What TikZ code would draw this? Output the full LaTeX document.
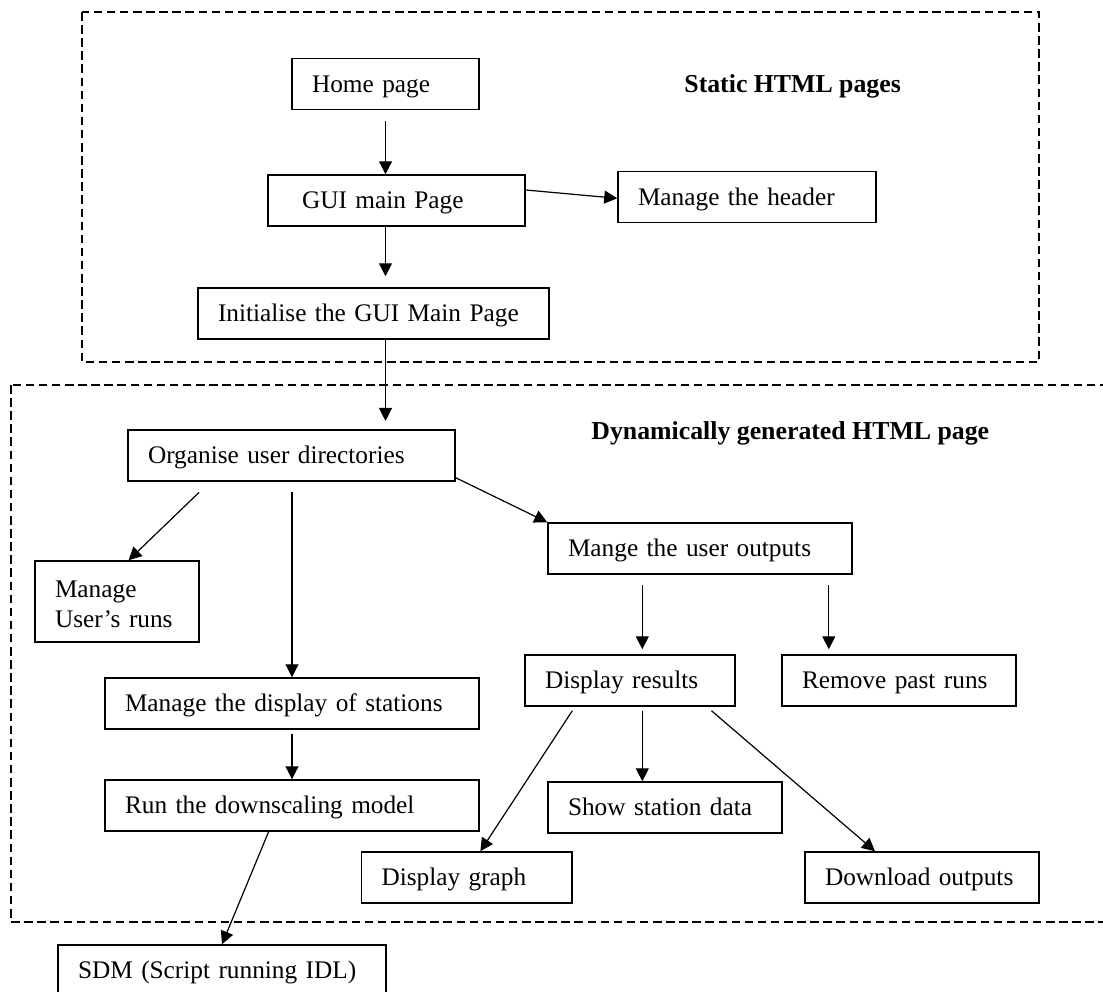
\documentclass[tikz,border=0pt]{standalone}
\usepackage{fontspec}
\setmainfont{Liberation Serif}
\usepackage{tikz}
\usetikzlibrary{arrows.meta,positioning}

\begin{document}
\begin{tikzpicture}[
  x=0.5pt, y=-0.5pt,
  pg/.style={draw, line width=0.75pt, align=left, inner xsep=10pt, inner ysep=0pt, minimum height=25.5pt,
    font=\fontsize{12.65}{15}\selectfont, execute at begin node={\rule[-3pt]{0pt}{14pt}}},
  ttl/.style={anchor=west, inner sep=0pt, font=\fontsize{12.9}{15}\selectfont\bfseries},
  grp/.style={line width=0.55pt, dash pattern=on 4.25pt off 2.3pt},
  arr/.style={->, line width=0.6pt},
  >={Triangle[length=6.5pt, width=6.5pt]}
]
\useasboundingbox (0,0) rectangle (1103,991);

% the two areas
\draw[grp] (82,12) rectangle (1039,362);
\draw[grp] (11,385) rectangle (1110,922);
\node[ttl] (static) at (684,86) {Static HTML pages};
\node[ttl] (dynamic) at (591,433) {Dynamically generated HTML page};

% static pages
\node[pg, text width=73.5pt] (home) at (385.5,84) {Home page};
\node[pg, text width=108.5pt] (gui) at (396.5,200.5) {\hspace*{7pt}GUI main Page};
\node[pg, text width=109pt] (header) at (747,197) {Manage the header};
\node[pg, text width=155.5pt] (init) at (373.5,313.5) {Initialise the GUI Main Page};

% generated page
\node[pg, text width=143.5pt] (org) at (291.5,455.5) {Organise user directories};
\node[pg, text width=62pt, minimum height=40.5pt] (runs) at (117,601.5) {Manage\\User's runs};
\node[pg, text width=132pt] (outs) at (700,548.5) {Mange the user outputs};
\node[pg, text width=85pt] (disp) at (630,680.5) {Display results};
\node[pg, text width=97pt] (remove) at (899,680.5) {Remove past runs};
\node[pg, text width=167pt] (stations) at (292,703.5) {Manage the display of stations};
\node[pg, text width=167pt] (run) at (292,805.5) {Run the downscaling model};
\node[pg, text width=97pt] (show) at (665,807.5) {Show station data};
\node[pg, text width=85.25pt] (graph) at (466.75,877.5) {Display graph};
\node[pg, text width=97pt] (download) at (922,877.5) {Download outputs};
\node[pg, text width=144pt] (sdm) at (222,970.5) {SDM (Script running IDL)};

% connectors
\draw[arr] ([yshift=-5.5pt]home.south) -- (home.south |- gui.north);
\draw[arr] ([yshift=5.25pt]gui.east) -- ([yshift=-0.65pt]header.west);
\draw[arr] (home.south |- gui.south) -- ([yshift=5.5pt]home.south |- init.north);
\draw[arr] (home.south |- init.south) -- ([yshift=4.15pt]home.south |- org.north);
\draw[arr] ([xshift=-46.25pt,yshift=-5.35pt]org.south) -- ([xshift=5.8pt]runs.north);
\draw[arr] ([yshift=-5.35pt]org.south -| stations.north) -- (stations.north);
\draw[arr] ([yshift=2pt]org.south east) -- (outs.north west);
\draw[arr] ([xshift=-28.85pt,yshift=-5.15pt]outs.south) -- ([xshift=6.15pt,yshift=2.5pt]disp.north);
\draw[arr] ([xshift=64.4pt,yshift=-5.15pt]outs.south) -- ([xshift=-35.1pt,yshift=2.5pt]remove.north);
\draw[arr] ([xshift=-28.85pt,yshift=-2pt]disp.south) -- ([xshift=6.8pt]graph.north);
\draw[arr] ([xshift=6.15pt,yshift=-2pt]disp.south) -- ([xshift=6.15pt]disp.south |- show.north);
\draw[arr] ([xshift=40.75pt,yshift=-2pt]disp.south) -- ([xshift=-23.5pt]download.north);
\draw[arr] ([yshift=-2pt]stations.south) -- (run.north);
\draw[arr] ([xshift=-11.7pt]run.south) -- (sdm.north);
\end{tikzpicture}
\end{document}
